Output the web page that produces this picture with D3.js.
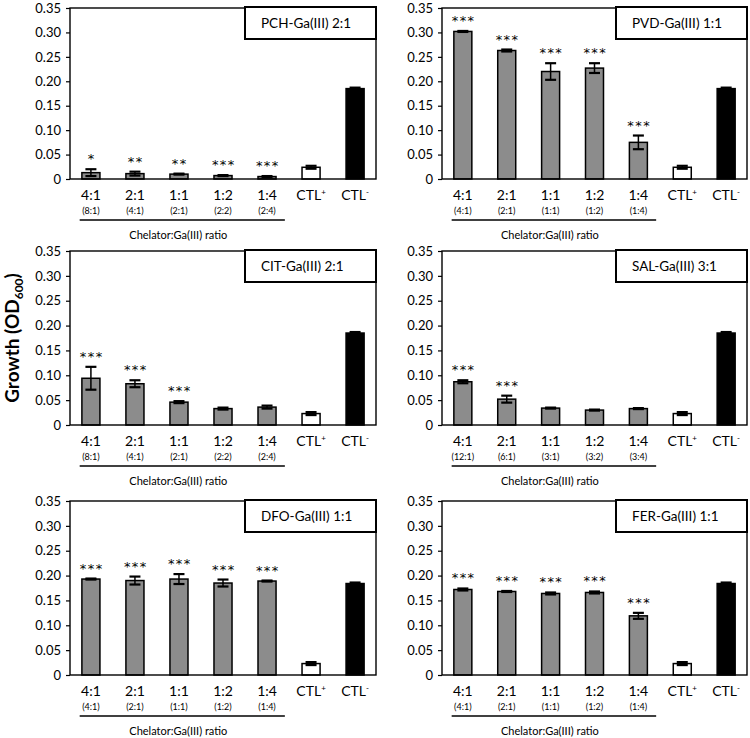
<!DOCTYPE html>
<html>
<head>
<meta charset="utf-8">
<script src="https://cdn.jsdelivr.net/npm/d3@7"></script>
<style>
  body { margin: 0; background: #fff; }
  svg { display: block; font-family: Lato, "Open Sans", sans-serif; }
</style>
</head>
<body>
<div id="chart"></div>
<script>
const categories = ["4:1", "2:1", "1:1", "1:2", "1:4", "CTL+", "CTL-"];
const yTicks = [0, 0.05, 0.10, 0.15, 0.20, 0.25, 0.30, 0.35];
const titles = ["PCH-Ga(III) 2:1", "PVD-Ga(III) 1:1", "CIT-Ga(III) 2:1", "SAL-Ga(III) 3:1", "DFO-Ga(III) 1:1", "FER-Ga(III) 1:1"];

// real ratios shown under each chelator:Ga label
const pchRatios = ["(8:1)", "(4:1)", "(2:1)", "(2:2)", "(2:4)"];
const pvdRatios = ["(4:1)", "(2:1)", "(1:1)", "(1:2)", "(1:4)"];
const citRatios = ["(8:1)", "(4:1)", "(2:1)", "(2:2)", "(2:4)"];
const salRatios = ["(12:1)", "(6:1)", "(3:1)", "(3:2)", "(3:4)"];
const dfoRatios = ["(4:1)", "(2:1)", "(1:1)", "(1:2)", "(1:4)"];
const ferRatios = ["(4:1)", "(2:1)", "(1:1)", "(1:2)", "(1:4)"];

// growth means (OD600)
const pchMeans = [0.013, 0.011, 0.010, 0.007, 0.005, 0.024, 0.185];
const pvdMeans = [0.302, 0.263, 0.220, 0.227, 0.075, 0.024, 0.185];
const citMeans = [0.094, 0.083, 0.046, 0.033, 0.036, 0.023, 0.185];
const salMeans = [0.087, 0.052, 0.034, 0.030, 0.033, 0.023, 0.185];
const dfoMeans = [0.193, 0.190, 0.193, 0.185, 0.189, 0.023, 0.184];
const ferMeans = [0.172, 0.168, 0.164, 0.166, 0.119, 0.023, 0.184];

// error bar half-widths
const pchErrors = [0.007, 0.004, 0.001, 0.001, 0.001, 0.003, 0.002];
const pvdErrors = [0.001, 0.002, 0.017, 0.010, 0.014, 0.003, 0.002];
const citErrors = [0.023, 0.007, 0.002, 0.002, 0.003, 0.003, 0.002];
const salErrors = [0.003, 0.007, 0.001, 0.001, 0.001, 0.003, 0.002];
const dfoErrors = [0.001, 0.008, 0.010, 0.007, 0.001, 0.003, 0.002];
const ferErrors = [0.002, 0.001, 0.002, 0.002, 0.006, 0.003, 0.002];

// significance marks
const pchStars = ["*", "**", "**", "***", "***", "", ""];
const pvdStars = ["***", "***", "***", "***", "***", "", ""];
const citStars = ["***", "***", "***", "", "", "", ""];
const salStars = ["***", "***", "", "", "", "", ""];
const dfoStars = ["***", "***", "***", "***", "***", "", ""];
const ferStars = ["***", "***", "***", "***", "***", "", ""];

const panels = [
  { means: pchMeans, errors: pchErrors, stars: pchStars, ratios: pchRatios },
  { means: pvdMeans, errors: pvdErrors, stars: pvdStars, ratios: pvdRatios },
  { means: citMeans, errors: citErrors, stars: citStars, ratios: citRatios },
  { means: salMeans, errors: salErrors, stars: salStars, ratios: salRatios },
  { means: dfoMeans, errors: dfoErrors, stars: dfoStars, ratios: dfoRatios },
  { means: ferMeans, errors: ferErrors, stars: ferStars, ratios: ferRatios }
];

const width = 750;
const height = 738;
const colX = [[70, 376], [442, 747]];
const rowY = [[8, 179], [251, 425], [501, 675]];

const svg = d3.select("#chart")
  .append("svg")
  .attr("width", width)
  .attr("height", height);

panels.forEach((p, k) => {
  const [x0, x1] = colX[k % 2];
  const [y0, y1] = rowY[Math.floor(k / 2)];

  const x = d3.scaleBand()
    .domain(categories)
    .range([x0, x1])
    .paddingInner(0.59)
    .paddingOuter(0.27);

  const y = d3.scaleLinear()
    .domain([0, 0.35])
    .range([y1, y0]);

  const g = svg.append("g");

  // y axis
  const axis = g.append("g")
    .attr("transform", `translate(${x0},0)`)
    .call(d3.axisLeft(y)
      .tickValues(yTicks)
      .tickSize(4)
      .tickSizeOuter(0)
      .tickPadding(5)
      .tickFormat(d => d === 0 ? "0" : d3.format(".2f")(d)));
  axis.select(".domain").remove();
  axis.selectAll("line").attr("stroke", "#000").attr("stroke-width", 1.2);
  axis.selectAll("text")
    .attr("font-size", "13px")
    .attr("fill", "#000")
    .attr("font-family", "Lato, 'Open Sans', sans-serif");

  // bars
  const rows = categories.map((c, i) => ({ c, i, v: p.means[i], e: p.errors[i], s: p.stars[i] }));
  g.selectAll(".bar")
    .data(rows)
    .join("rect")
    .attr("x", d => x(d.c))
    .attr("y", d => y(d.v))
    .attr("width", x.bandwidth())
    .attr("height", d => y(0) - y(d.v))
    .attr("fill", d => d.c === "CTL+" ? "#fff" : d.c === "CTL-" ? "#000" : "#8c8c8c")
    .attr("stroke", "#000")
    .attr("stroke-width", 1.5);

  // error bars
  const cap = 11;
  const eb = g.selectAll(".err")
    .data(rows)
    .join("g");
  eb.append("line")
    .attr("x1", d => x(d.c) + x.bandwidth() / 2)
    .attr("x2", d => x(d.c) + x.bandwidth() / 2)
    .attr("y1", d => y(d.v - d.e))
    .attr("y2", d => y(d.v + d.e))
    .attr("stroke", "#000")
    .attr("stroke-width", 1.5);
  [d => d.v - d.e, d => d.v + d.e].forEach(fn => {
    eb.append("line")
      .attr("x1", d => x(d.c) + x.bandwidth() / 2 - cap / 2)
      .attr("x2", d => x(d.c) + x.bandwidth() / 2 + cap / 2)
      .attr("y1", d => y(fn(d)))
      .attr("y2", d => y(fn(d)))
      .attr("stroke", "#000")
      .attr("stroke-width", 2.2);
  });

  // stars
  g.selectAll(".star")
    .data(rows.filter(d => d.s))
    .join("text")
    .attr("x", d => x(d.c) + x.bandwidth() / 2 + 0.8)
    .attr("y", d => y(d.v + d.e) - 6)
    .attr("text-anchor", "middle")
    .attr("font-family", "'DejaVu Sans', sans-serif")
    .attr("font-size", "13px")
    .attr("letter-spacing", "1.4px")
    .attr("fill", "#000")
    .text(d => d.s);

  // frame
  g.append("rect")
    .attr("x", x0)
    .attr("y", y0)
    .attr("width", x1 - x0)
    .attr("height", y1 - y0)
    .attr("fill", "none")
    .attr("stroke", "#000")
    .attr("stroke-width", 1.4);

  // title box
  const boxW = 131;
  g.append("rect")
    .attr("x", x1 - boxW)
    .attr("y", y0 - 1)
    .attr("width", boxW)
    .attr("height", 32)
    .attr("fill", "#fff")
    .attr("stroke", "#000")
    .attr("stroke-width", 2);
  g.append("text")
    .attr("x", x1 - boxW + 16)
    .attr("y", y0 + 20)
    .attr("font-size", "13.5px")
    .attr("fill", "#000")
    .text(titles[k]);

  // category labels
  const lab = g.selectAll(".cat")
    .data(rows)
    .join("text")
    .attr("x", d => x(d.c) + x.bandwidth() / 2)
    .attr("y", y1 + 20.5)
    .attr("text-anchor", "middle")
    .attr("font-size", "14px")
    .attr("fill", "#000");
  lab.append("tspan").text(d => d.c.startsWith("CTL") ? "CTL" : d.c);
  lab.filter(d => d.c.startsWith("CTL"))
    .append("tspan")
    .attr("dy", "-5")
    .attr("font-size", "8px")
    .text(d => d.c.slice(3));

  g.selectAll(".ratio")
    .data(p.ratios)
    .join("text")
    .attr("x", (d, i) => x(categories[i]) + x.bandwidth() / 2)
    .attr("y", y1 + 34.5)
    .attr("text-anchor", "middle")
    .attr("font-size", "9px")
    .attr("fill", "#000")
    .text(d => d);

  const lineStart = x(categories[0]) - x.step() * 0.05;
  const lineEnd = x(categories[4]) + x.bandwidth() + x.step() * 0.2;
  g.append("line")
    .attr("x1", lineStart)
    .attr("x2", lineEnd)
    .attr("y1", y1 + 41)
    .attr("y2", y1 + 41)
    .attr("stroke", "#000")
    .attr("stroke-width", 1.6);

  g.append("text")
    .attr("x", (lineStart + lineEnd) / 2 - 4)
    .attr("y", y1 + 59.5)
    .attr("text-anchor", "middle")
    .attr("font-size", "11px")
    .attr("fill", "#000")
    .text("Chelator:Ga(III) ratio");
});

// shared y label
const ylab = svg.append("text")
  .attr("transform", "translate(19,338) rotate(-90)")
  .attr("text-anchor", "middle")
  .attr("font-size", "19px")
  .attr("font-weight", "bold")
  .attr("fill", "#000");
ylab.append("tspan").text("Growth (OD");
ylab.append("tspan").attr("font-size", "12px").attr("dy", "4").text("600");
ylab.append("tspan").attr("dy", "-4").text(")");
</script>
</body>
</html>
